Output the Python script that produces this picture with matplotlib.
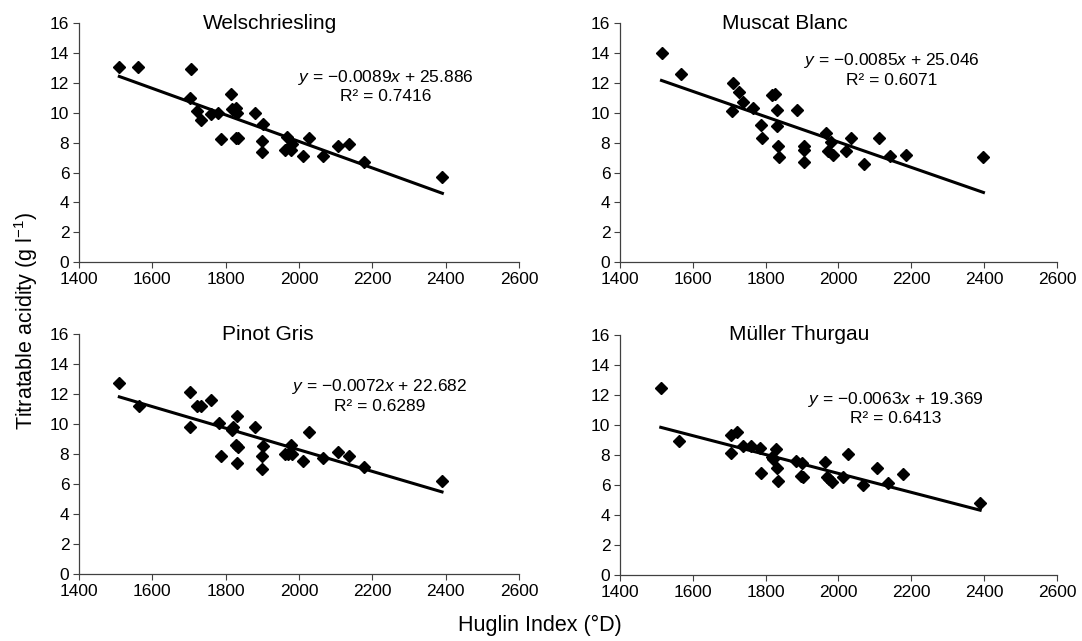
import matplotlib
matplotlib.use('Agg')
import matplotlib.pyplot as plt
import numpy as np

plt.rcParams['font.family'] = ['Liberation Sans', 'DejaVu Sans']
plt.rcParams['mathtext.fontset'] = 'custom'
plt.rcParams['mathtext.rm'] = 'Liberation Sans'
plt.rcParams['mathtext.it'] = 'Liberation Sans:italic'

# ==========================================
# data
# ==========================================
varieties = ['Welschriesling', 'Muscat Blanc', 'Pinot Gris', 'Müller Thurgau']

welsch_x = [1510, 1562, 1705, 1702, 1722, 1734, 1759, 1780, 1786, 1815, 1818, 1827, 1830, 1827, 1834,
            1880, 1902, 1900, 1900, 1966, 1961, 1977, 1981, 2011, 2028, 2066, 2107, 2135, 2177, 2391]
welsch_y = [13.1, 13.1, 12.93, 11.02, 10.13, 9.5, 9.92, 10.01, 8.22, 11.25, 10.26, 10.35, 10.01, 8.3, 8.3,
            10.01, 9.25, 8.13, 7.39, 8.36, 7.5, 7.5, 7.9, 7.12, 8.29, 7.12, 7.77, 7.89, 6.68, 5.67]

muscat_x = [1514, 1567, 1710, 1707, 1727, 1739, 1764, 1786, 1790, 1818, 1826, 1831, 1831, 1834, 1838,
            1886, 1905, 1905, 1905, 1967, 1970, 1979, 1986, 2020, 2034, 2071, 2112, 2142, 2185, 2398]
muscat_y = [14.0, 12.63, 12.02, 10.11, 11.42, 10.72, 10.31, 9.21, 8.31, 11.21, 11.3, 10.2, 9.15, 7.8, 7.03,
            10.2, 7.75, 7.53, 6.74, 8.65, 7.46, 8.02, 7.15, 7.46, 8.31, 6.56, 8.31, 7.08, 7.17, 7.03]

pinot_x = [1510, 1563, 1704, 1702, 1722, 1734, 1759, 1783, 1787, 1816, 1820, 1830, 1827, 1834, 1830,
           1880, 1901, 1900, 1900, 1961, 1969, 1977, 1981, 2012, 2028, 2066, 2107, 2136, 2177, 2390]
pinot_y = [12.71, 11.22, 12.11, 9.82, 11.22, 11.22, 11.62, 10.04, 7.89, 9.62, 9.78, 10.53, 8.6, 8.44, 7.4,
           9.82, 8.51, 7.84, 7.02, 8.0, 8.0, 8.62, 8.0, 7.51, 9.44, 7.76, 8.11, 7.89, 7.16, 6.18]

muller_x = [1512, 1563, 1705, 1722, 1704, 1737, 1759, 1785, 1787, 1817, 1821, 1829, 1830, 1833, 1882,
            1901, 1897, 1902, 1963, 1968, 1975, 1982, 2013, 2027, 2067, 2105, 2137, 2176, 2389]
muller_y = [12.44, 8.93, 9.33, 9.55, 8.11, 8.62, 8.62, 8.49, 6.78, 7.89, 7.75, 8.38, 7.11, 6.27, 7.6,
            7.49, 6.6, 6.51, 7.55, 6.51, 6.42, 6.22, 6.51, 8.07, 6.0, 7.16, 6.11, 6.73, 4.82]

# trend lines as printed on the chart
slopes = [-0.0089, -0.0085, -0.0072, -0.0063]
intercepts = [25.886, 25.046, 22.682, 19.369]
r_squared = ['0.7416', '0.6071', '0.6289', '0.6413']

# ==========================================
# layout
# ==========================================
xs = [welsch_x, muscat_x, pinot_x, muller_x]
ys = [welsch_y, muscat_y, pinot_y, muller_y]
axes_rects = [
    [0.0730, 0.5913, 0.4067, 0.3721],
    [0.5730, 0.5913, 0.4039, 0.3721],
    [0.0730, 0.1045, 0.4067, 0.3744],
    [0.5730, 0.1030, 0.4039, 0.3744],
]
title_pos = [0.434, 0.378, 0.43, 0.41]
eq_pos = [(2237, 12.35, 11.07), (2147, 13.52, 12.2), (2221, 12.47, 11.2), (2158, 11.73, 10.4)]

fig = plt.figure(figsize=(10.82, 6.41), dpi=100)

for i, name in enumerate(varieties):
    ax = fig.add_axes(axes_rects[i])
    x = np.array(xs[i])
    y = np.array(ys[i])
    ax.plot(x, y, linestyle='none', marker='D', markersize=5.8, color='black')

    line_x = np.array([x.min(), x.max()])
    ax.plot(line_x, slopes[i] * line_x + intercepts[i], color='black', linewidth=2.2)

    ax.set_xlim(1400, 2600)
    ax.set_ylim(0, 16)
    ax.set_xticks(range(1400, 2601, 200))
    ax.set_yticks(range(0, 17, 2))
    ax.tick_params(direction='out', length=4, width=0.8, labelsize=12.5, color='#404040', pad=3)
    for side in ['top', 'right']:
        ax.spines[side].set_visible(False)
    for side in ['left', 'bottom']:
        ax.spines[side].set_color('#404040')
        ax.spines[side].set_linewidth(0.9)

    ax.text(title_pos[i], 1.0, name, transform=ax.transAxes, ha='center', va='center', fontsize=15)

    ex, ey1, ey2 = eq_pos[i]
    eq = f'$y$ = \u2212{abs(slopes[i]):.4f}$x$ + {intercepts[i]:.3f}'
    ax.text(ex, ey1, eq, ha='center', va='center', fontsize=12.5)
    ax.text(ex, ey2, f'R\u00b2 = {r_squared[i]}', ha='center', va='center', fontsize=12.5)

fig.text(0.024, 0.50, 'Titratable acidity (g l$^{-1}$)', rotation=90, ha='center', va='center', fontsize=15.5)
fig.text(0.499, 0.025, 'Huglin Index (°D)', ha='center', va='center', fontsize=15.5)

fig.savefig('out.png', dpi=100)
